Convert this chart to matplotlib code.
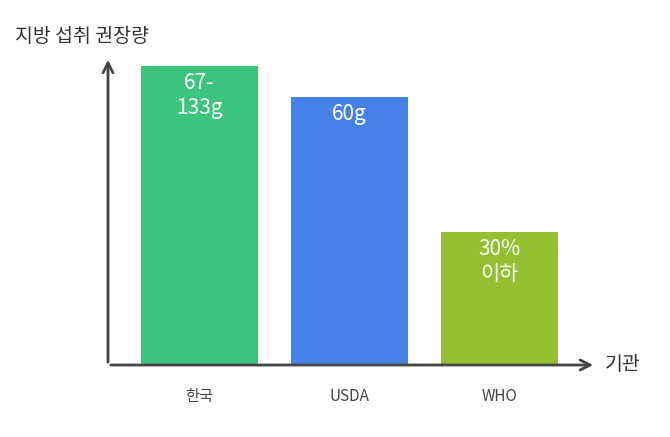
import matplotlib
matplotlib.use('Agg')
import matplotlib.pyplot as plt

plt.rcParams['font.family'] = ['Noto Sans CJK KR', 'DejaVu Sans']

categories  = ['한국', 'USDA', 'WHO']
bar_heights = [100, 89.6, 44.5]   # relative heights
bar_labels  = ['67-\n133g', '60g', '30%\n이하']
colors      = ['#3DC47E', '#4682E5', '#94C032']

fig = plt.figure(figsize=(6.7, 4.37), dpi=100)
ax = fig.add_axes([108 / 670, 72 / 437, 484 / 670, 307 / 437])
ax.set_xlim(-0.61, 2.617)
ax.set_ylim(0, 102.7)
for s in ax.spines.values():
    s.set_visible(False)
ax.set_xticks([])
ax.set_yticks([])

x = range(len(categories))
ax.bar(x, bar_heights, width=0.78, color=colors)
for xi, h, lab in zip(x, bar_heights, bar_labels):
    ax.text(xi, h - 2, lab, ha='center', va='top', color='white',
            fontsize=15, linespacing=1.2)
    ax.text(xi, -10.5, categories[xi], ha='center', va='center',
            color='#444444', fontsize=11)

# axis arrows
arrow = dict(arrowstyle='->', color='#444444', lw=2, mutation_scale=18)
fig.add_artist(matplotlib.patches.FancyArrowPatch(
    (108 / 670, 72 / 437), (108 / 670, 380 / 437), transform=fig.transFigure, **arrow))
fig.add_artist(matplotlib.patches.FancyArrowPatch(
    (108 / 670, 72 / 437), (596 / 670, 72 / 437), transform=fig.transFigure, **arrow))

fig.text(15 / 670, 1 - 37 / 437, '지방 섭취 권장량', fontsize=14, color='#333333', va='center')
fig.text(605 / 670, 1 - 365 / 437, '기관', fontsize=14, color='#333333', va='center')

fig.savefig('out.png', dpi=100)
